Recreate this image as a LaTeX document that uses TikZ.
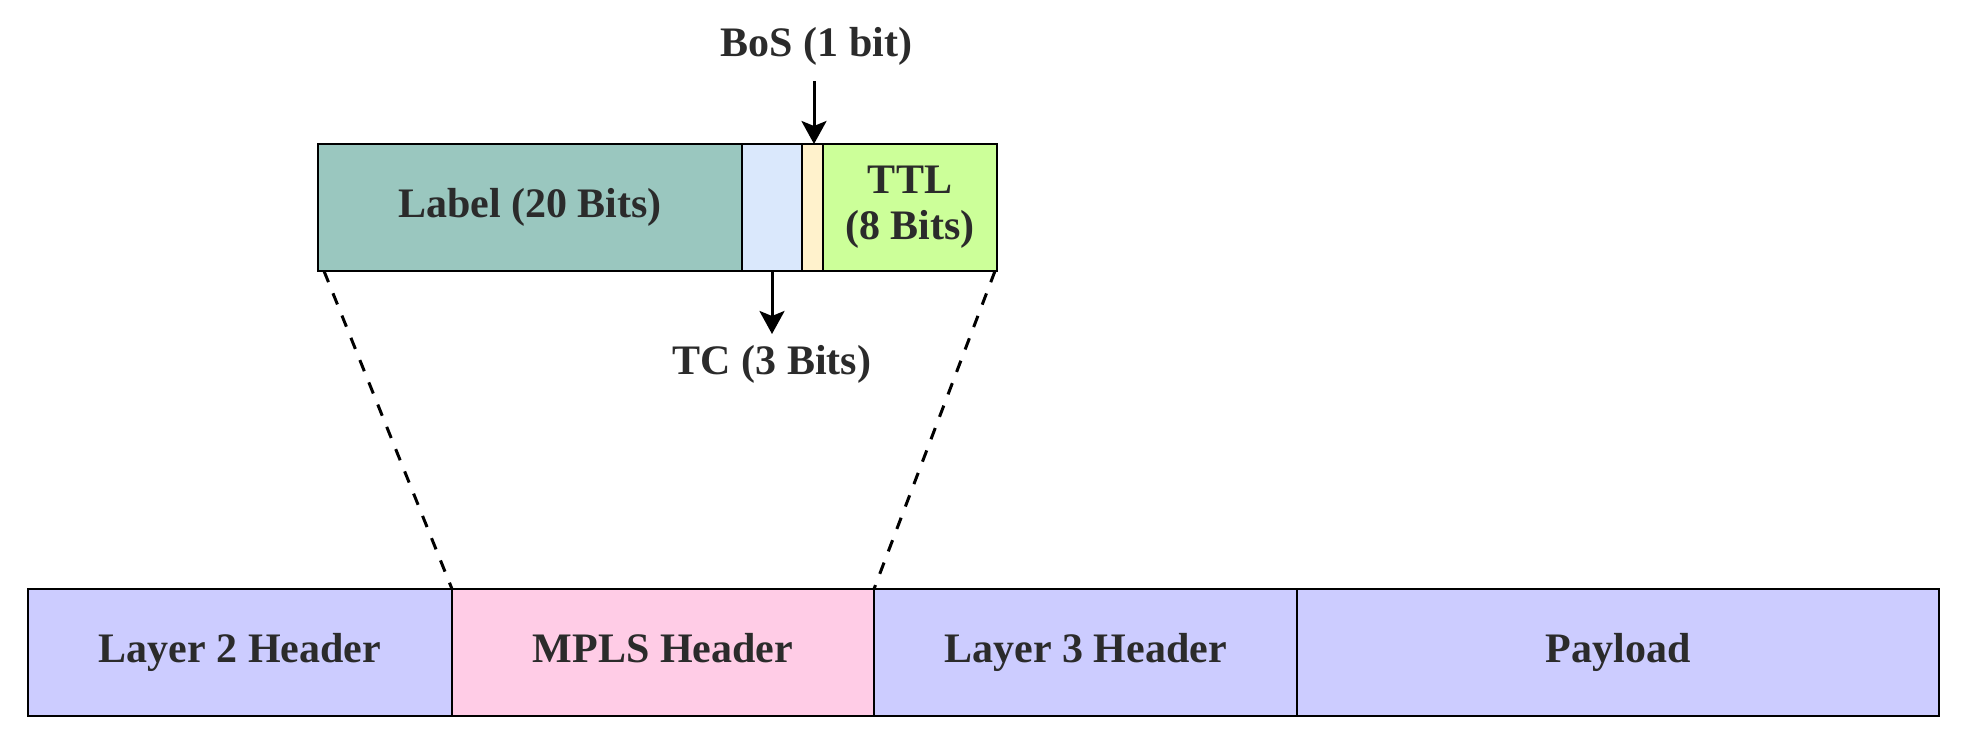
\documentclass[tikz,border=0pt]{standalone}
\usepackage{fontspec}
\setmainfont{Liberation Serif}
\usetikzlibrary{arrows.meta,calc}
\definecolor{labelc}{HTML}{9AC7BF}
\definecolor{tcc}{HTML}{DAE8FC}
\definecolor{bosc}{HTML}{FFF2CC}
\definecolor{ttlc}{HTML}{CCFF99}
\definecolor{hdrc}{HTML}{CCCCFF}
\definecolor{mplsc}{HTML}{FFCCE6}
\definecolor{txtc}{HTML}{2B2B2B}
\tikzset{
  field/.style={draw=black, line width=1.1pt, inner sep=0pt, outer sep=0pt,
    minimum height=63.5pt, text=txtc, align=center,
    font=\fontsize{21pt}{23pt}\selectfont\bfseries},
  oneline/.style={text height=14.5pt, text depth=4.5pt},
  lbl/.style={inner sep=0pt, text=txtc, text height=14.5pt, text depth=4.5pt,
    font=\fontsize{21pt}{23pt}\selectfont\bfseries},
  zoomline/.style={dashed, dash pattern=on 6pt off 6pt, line width=1.5pt},
  arr/.style={line width=1.5pt, -{Stealth[length=11.5pt,width=12.5pt,inset=2.5pt]}}
}
\begin{document}
\begin{tikzpicture}[x=0.5pt,y=-0.5pt]
\useasboundingbox (0,0) rectangle (1966,750);
% bottom packet
\node[field, oneline, fill=hdrc,  minimum width=212pt] (l2)   at (240,652.5) {Layer 2 Header};
\node[field, oneline, fill=mplsc, minimum width=211pt] (mpls) at (663,652.5) {MPLS Header};
\node[field, oneline, fill=hdrc,  minimum width=211.5pt] (l3) at (1085.5,652.5) {Layer 3 Header};
\node[field, oneline, fill=hdrc,  minimum width=321pt] (pay)  at (1618,652.5) {Payload};
% MPLS header fields
\node[field, oneline, fill=labelc, minimum width=212pt] (label) at (530,207.5) {Label (20 Bits)};
\node[field, fill=tcc,    minimum width=30pt]  (tc)    at (772,207.5) {};
\node[field, fill=bosc,   minimum width=10.5pt] (bos)  at (812.5,207.5) {};
\node[field, fill=ttlc,   minimum width=87pt]  (ttl)   at (910,207.5) {TTL\\(8 Bits)};
% labels
\node[lbl] (bostext) at (816.5,46) {BoS (1 bit)};
\node[lbl] (tctext)  at (772,364) {TC (3 Bits)};
\coordinate (bosstart) at (814,81);
\coordinate (bosend)   at (814,144);
\coordinate (tcend)    at (772,334);
\draw[arr] (bosstart) -- (bosend);
\draw[arr] (tc.south) -- (tcend);
% zoom lines
\draw[zoomline] ($(label.south west)+(6,0)$) -- (mpls.north west);
\draw[zoomline] ($(ttl.south east)+(-2,0)$) -- (mpls.north east);
\end{tikzpicture}
\end{document}
